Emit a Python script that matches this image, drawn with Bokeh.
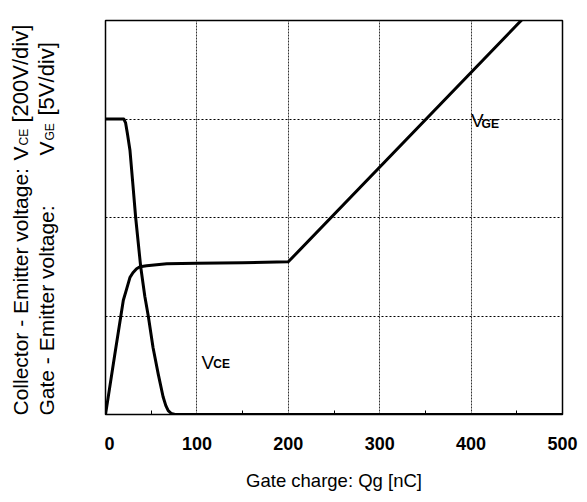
import math
from bokeh.plotting import figure
from bokeh.layouts import row
from bokeh.models import Label, FixedTicker, Grid, Range1d
from bokeh.core.properties import value
from bokeh.embed import file_html
from bokeh.resources import INLINE

# ---- data (gate charge in nC, voltages in divisions) ----
x_ticks = [0, 100, 200, 300, 400, 500]
x_minor = [50, 150, 250, 350, 450]
y_grid_divs = [1, 2, 3]

vce_q = [0, 20, 22, 24, 26.8, 30, 33, 38.5, 43, 46.8, 52, 57.7, 63, 66, 68.6, 72, 76, 500]
vce_div = [3.0, 3.0, 2.96, 2.85, 2.68, 2.33, 2.0, 1.5, 1.2, 1.0, 0.68, 0.41, 0.18, 0.09, 0.04, 0.01, 0.0, 0.0]

vge_q = [0, 10, 19.5, 23, 26.7, 30, 34, 37.7, 45, 56, 67, 100, 150, 200, 460]
vge_div = [0, 0.6, 1.16, 1.27, 1.39, 1.44, 1.48, 1.50, 1.51, 1.52, 1.53, 1.535, 1.54, 1.55, 4.05]

FONT = "Liberation Sans"
H = 494

# ---------------- main chart ----------------
p = figure(width=475, height=H, x_range=Range1d(0, 500), y_range=Range1d(0, 4),
           output_backend="svg", toolbar_location=None, y_axis_location=None,
           min_border_left=1, min_border_right=17, min_border_top=20, min_border_bottom=80)

p.outline_line_color = "black"
p.outline_line_width = 1.5
p.background_fill_color = "white"
p.border_fill_color = "white"
p.ygrid.visible = False

ax = p.xaxis[0]
ax.ticker = FixedTicker(ticks=x_ticks, minor_ticks=x_minor)
ax.axis_line_color = None
ax.major_tick_line_color = None
ax.minor_tick_in = 4
ax.minor_tick_out = 0
ax.minor_tick_line_color = "black"
ax.major_label_text_font = FONT
ax.major_label_text_font_style = "bold"
ax.major_label_text_font_size = "18px"
ax.major_label_text_color = "black"
ax.major_label_standoff = 16
ax.axis_label = "Gate charge: Qg [nC]"
ax.axis_label_text_font = FONT
ax.axis_label_text_font_style = "normal"
ax.axis_label_text_font_size = "18.5px"
ax.axis_label_text_color = "black"
ax.axis_label_standoff = 17

p.xgrid.grid_line_color = "#333333"
p.xgrid.grid_line_dash = "2 1"
p.xgrid.grid_line_width = 1

p.add_layout(Grid(dimension=1, ticker=FixedTicker(ticks=y_grid_divs),
                  grid_line_color="black", grid_line_dash="2 2", grid_line_width=1))

p.line(vce_q, vce_div, line_color="black", line_width=3, line_join="round")
p.line(vge_q, vge_div, line_color="black", line_width=3, line_join="round")

def lab(x, y, text, size, style="normal"):
    p.add_layout(Label(x=x, y=y, text=text, text_font=FONT, text_font_size=size,
                       text_font_style=style, text_color="black",
                       text_align="left", text_baseline="alphabetic"))

lab(105, 0.53, "V", "19px")
lab(118, 0.51, "CE", "12px", "bold")
lab(400, 2.985, "V", "19px")
lab(411.5, 2.95, "GE", "12px", "bold")

# ---------------- rotated y title panel ----------------
# frame of this panel is aligned with the main frame (page y 20..414); y = H - page_y
t = figure(width=104, height=H, x_range=Range1d(0, 104), y_range=Range1d(80, 474),
           output_backend="svg", toolbar_location=None, x_axis_location=None,
           y_axis_location=None, min_border=0, outline_line_color=None)
t.grid.visible = False
A = math.pi / 2

def vtext(xs, ys, texts, size):
    t.text(x=xs, y=ys, text=texts, angle=A, text_font=value(FONT), text_font_size=size,
           text_color="black", text_align="left", text_baseline="alphabetic")

vtext([20, 20, 46, 46], [H - 415, H - 160, H - 415, H - 155],
      ["Collector - Emitter voltage:", "V", "Gate - Emitter voltage:", "V"], "21px")
vtext([23, 49], [H - 145, H - 140], ["CE", "GE"], "12px")
vtext([20, 46], [H - 122, H - 115], ["[200V/div]", "[5V/div]"], "22px")

layout = row(t, p)
open("out.html", "w").write(file_html(layout, INLINE))
